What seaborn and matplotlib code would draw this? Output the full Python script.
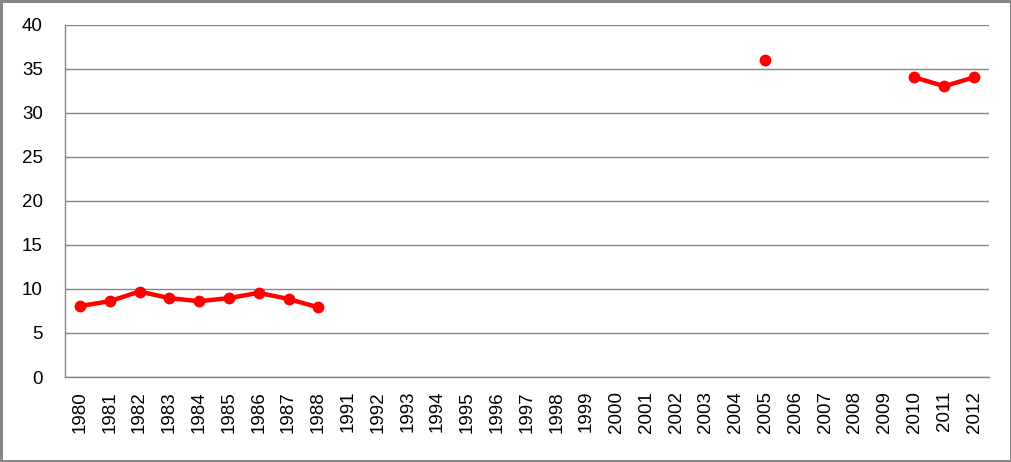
import matplotlib
matplotlib.use("Agg")
import matplotlib.pyplot as plt
import numpy as np
import pandas as pd
import seaborn as sns

years = ["1980", "1981", "1982", "1983", "1984", "1985", "1986", "1987", "1988",
         "1991", "1992", "1993", "1994", "1995", "1996", "1997", "1998", "1999",
         "2000", "2001", "2002", "2003", "2004", "2005", "2006", "2007", "2008",
         "2009", "2010", "2011", "2012"]
values = [8.05, 8.6, 9.7, 8.95, 8.6, 8.95, 9.55, 8.85, 7.9,
          None, None, None, None, None, None, None, None, None,
          None, None, None, None, None, 36.0, None, None, None,
          None, 34.0, 33.0, 34.0]
yticks = [0, 5, 10, 15, 20, 25, 30, 35, 40]

df = pd.DataFrame({"year": years, "value": values})
df["pos"] = np.arange(len(df))
# separate runs of data so the gaps stay open
df["seg"] = df["value"].isna().cumsum()
df = df.dropna(subset=["value"])

sns.set_style("white")
plt.rcParams["font.family"] = ["Liberation Sans", "DejaVu Sans"]

fig = plt.figure(figsize=(10.12, 4.62), dpi=100, edgecolor="#868686", linewidth=2.5)
ax = fig.add_axes([65 / 1012, (462 - 377) / 462, (989 - 65) / 1012, (377 - 24.5) / 462])

sns.lineplot(data=df, x="pos", y="value", units="seg", estimator=None,
             color="#ff0000", linewidth=3.2, marker="o", markersize=8.5,
             markeredgewidth=0, ax=ax, legend=False)

ax.set_xlim(-0.5, len(years) - 0.5)
ax.set_ylim(0, 40)
ax.set_yticks(yticks)
ax.set_yticklabels([str(t) for t in yticks], fontsize=13.5)
ax.set_xticks(np.arange(len(years)))
ax.set_xticklabels(years, rotation=90, fontsize=13.5)
ax.set_xticks(np.arange(len(years) + 1) - 0.5, minor=True)
ax.tick_params(axis="x", which="major", length=0, pad=10, labelcolor="black")
ax.tick_params(axis="x", which="minor", length=6, color="#868686", direction="out")
ax.tick_params(axis="y", length=7, color="#868686", direction="out", pad=9,
               labelcolor="black")
ax.yaxis.grid(True, color="#868686", linewidth=1)
ax.set_axisbelow(True)
for side in ["top", "right"]:
    ax.spines[side].set_visible(False)
for side in ["left", "bottom"]:
    ax.spines[side].set_color("#868686")
    ax.spines[side].set_linewidth(1)
ax.set_xlabel("")
ax.set_ylabel("")

fig.savefig("out.png", dpi=100)
